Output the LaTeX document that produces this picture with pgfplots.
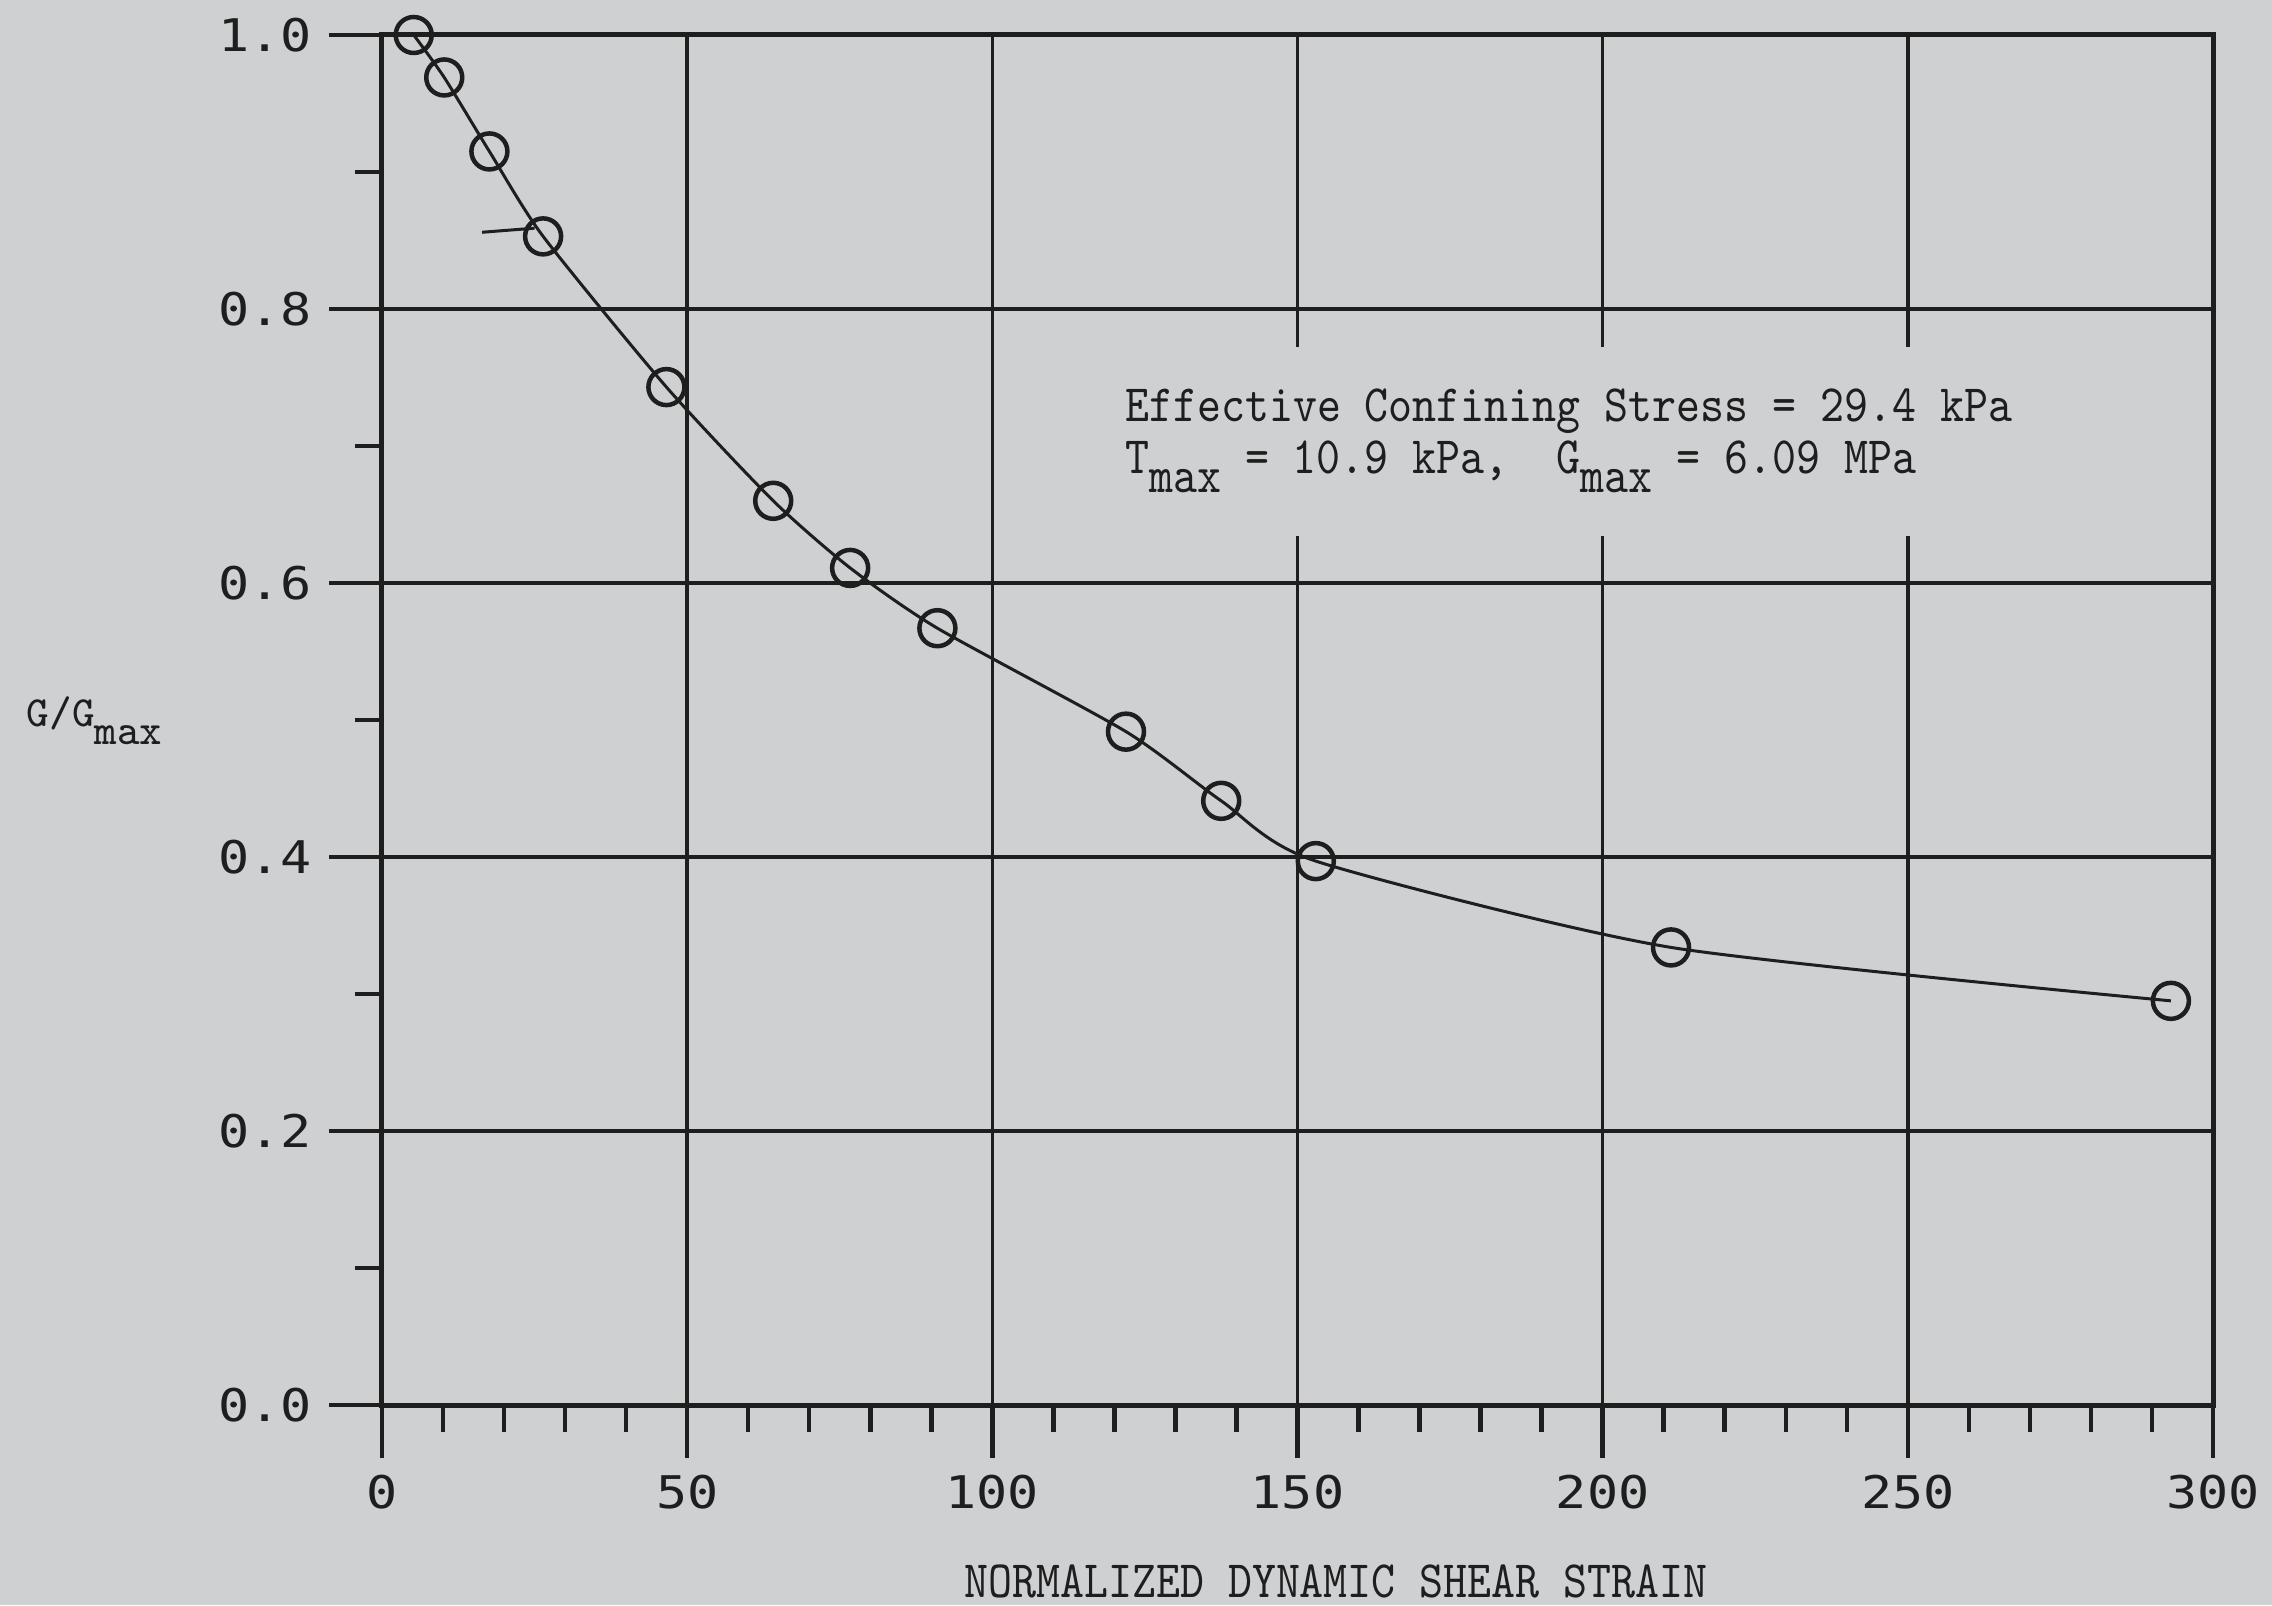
\documentclass[border=0pt]{standalone}
\usepackage{fontspec}
\usepackage{pgfplots}
\pgfplotsset{compat=1.18}
\newfontfamily\tickfont[FakeStretch=1.15]{DejaVu Sans Mono}
\newfontfamily\typefont[Extension=.otf, FakeStretch=0.87]{lmmono10-regular}
\definecolor{bgc}{RGB}{207,208,210}
\definecolor{ink}{RGB}{30,30,30}
\begin{document}
\begin{tikzpicture}
\path[use as bounding box, fill=bgc] (-76.4pt,-40pt) rectangle (378pt,281pt);
\begin{axis}[
 scale only axis, width=366.2pt, height=274pt,
 xmin=0, xmax=300, ymin=0, ymax=1,
 xtick={0,50,100,150,200,250,300}, ytick={0,0.2,0.4,0.6,0.8,1.0},
 minor x tick num=4, minor y tick num=1,
 grid=major,
 major grid style={ink, line width=0.7pt},
 axis line style={ink, line width=1pt},
 tick style={ink, line width=0.9pt},
 tick align=outside,
 major tick length=10.5pt, minor tick length=5.3pt,
 xtick pos=bottom, ytick pos=left,
 ticklabel style={font=\tickfont\fontsize{9}{9}\selectfont, text=ink},
 /pgf/number format/assume math mode=true,
 yticklabel style={/pgf/number format/.cd, fixed, fixed zerofill, precision=1},
 xticklabel style={/pgf/number format/.cd, fixed, precision=0},
 clip=false,
]
\addplot[ink, line width=0.6pt, smooth, tension=0.4, mark=o, mark size=3.6pt, mark options={line width=0.9pt, solid}] coordinates {
 (5.2,1.0) (10.2,0.969) (17.6,0.915) (26.4,0.853) (46.6,0.743) (64.1,0.660)
 (76.7,0.611) (91.0,0.567) (121.9,0.4915) (137.5,0.441) (153.0,0.397)
 (211.2,0.334) (293.1,0.295)
};
\addplot[ink, line width=0.6pt, no marks] coordinates {(16.4,0.856) (25.0,0.859)};
\fill[bgc] (axis cs:119,0.634) rectangle (axis cs:268,0.772);
\node[anchor=base west, inner sep=0, font=\typefont\fontsize{10.5}{10.5}\selectfont, text=ink] at (axis cs:121.6,0.718) {Effective Confining Stress = 29.4 kPa};
\node[anchor=base west, inner sep=0, font=\typefont\fontsize{10.5}{10.5}\selectfont, text=ink] at (axis cs:121.6,0.680) {T\raisebox{-3.8pt}{max} = 10.9 kPa,\ \ G\raisebox{-3.8pt}{max} = 6.09 MPa};
\node[anchor=base, inner sep=0, font=\typefont\fontsize{10.5}{10.5}\selectfont, text=ink, yshift=-38.5pt] at (axis cs:156.3,0) {NORMALIZED DYNAMIC SHEAR STRAIN};
\node[anchor=base west, inner sep=0, font=\ttfamily\fontsize{8.6}{8.6}\selectfont, text=ink, xshift=-71.2pt] at (axis cs:0,0.495) {G/G\raisebox{-3.5pt}{max}};
\end{axis}
\end{tikzpicture}
\end{document}
